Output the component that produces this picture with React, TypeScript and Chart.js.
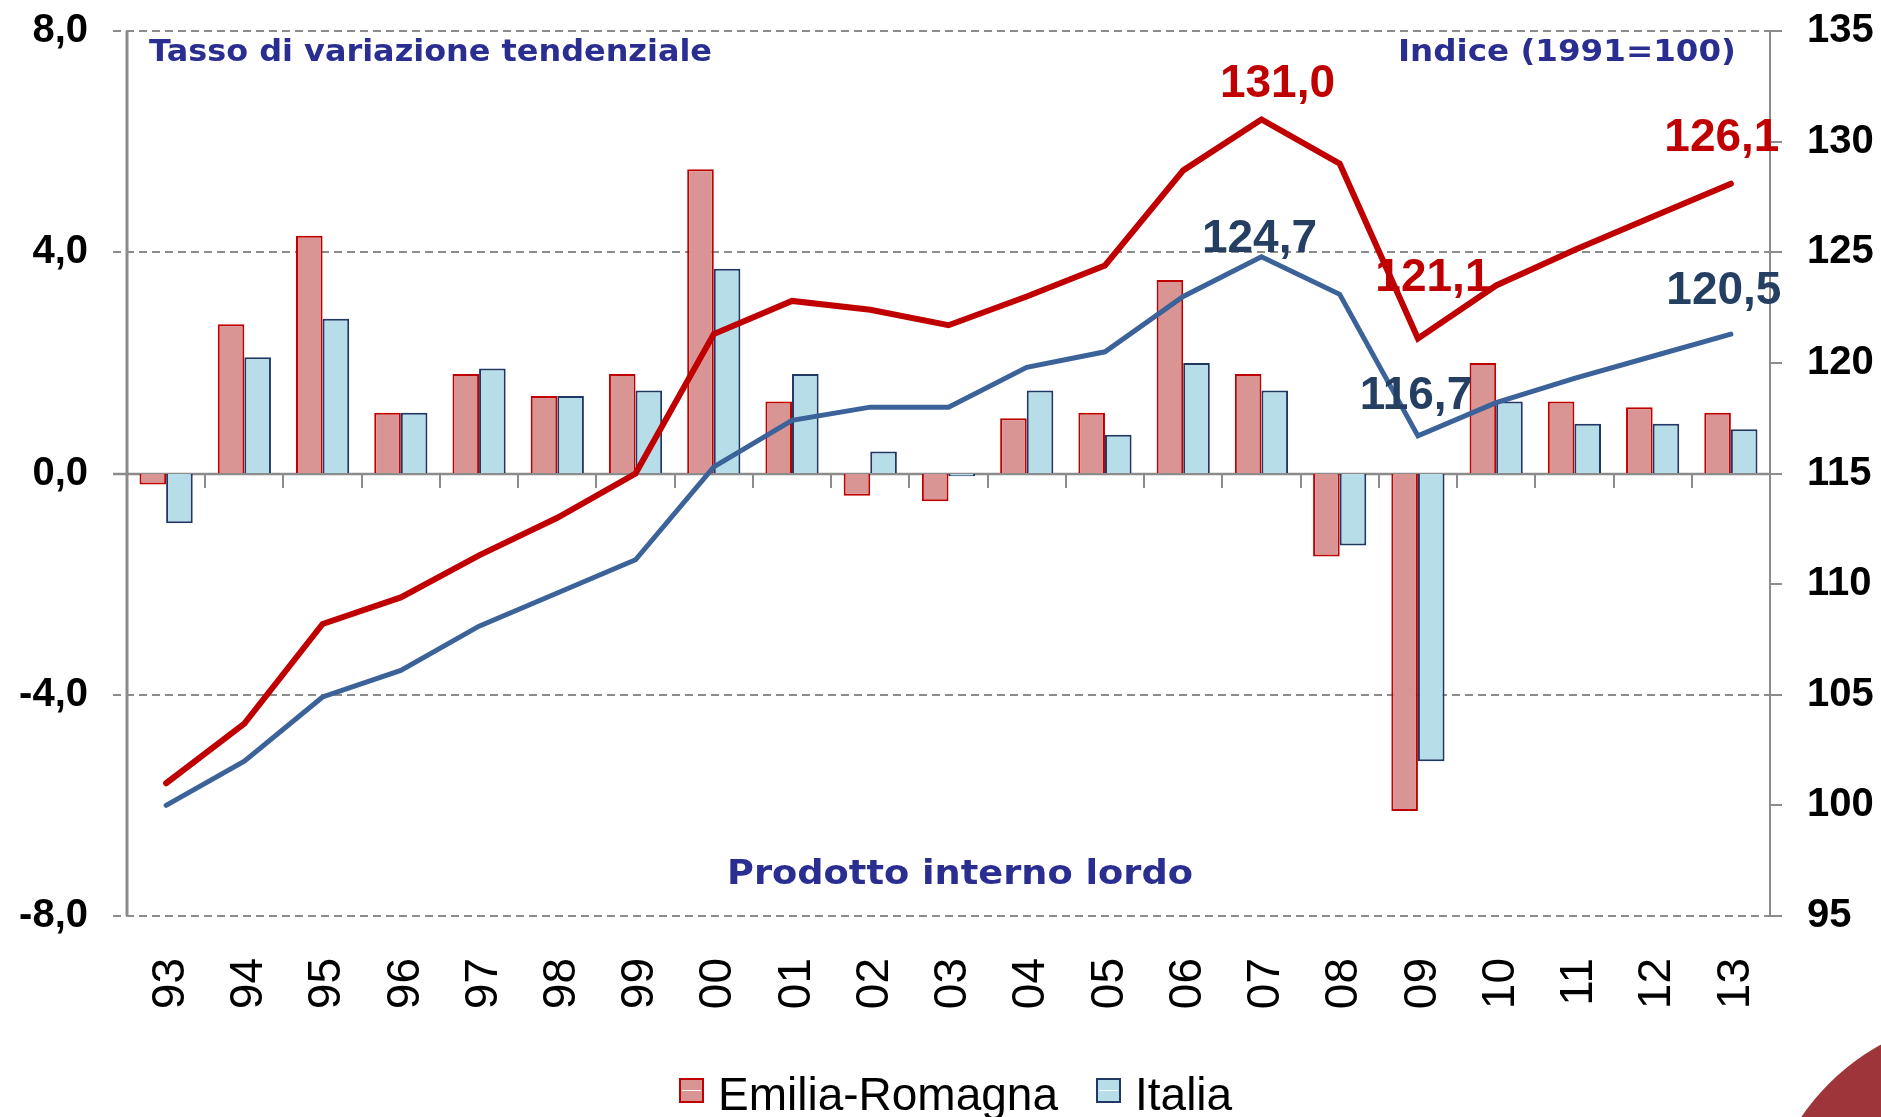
import React, { useEffect, useRef } from 'react';
import { Chart, registerables } from 'chart.js';

Chart.register(...registerables);

// ---------------- DATA ----------------
const years = ['93', '94', '95', '96', '97', '98', '99', '00', '01', '02', '03', '04', '05', '06', '07', '08', '09', '10', '11', '12', '13'];
const seriesNames = ['Emilia-Romagna', 'Italia'];
// Tasso di variazione tendenziale (%), left axis
const erGrowth = [-0.2, 2.7, 4.3, 1.1, 1.8, 1.4, 1.8, 5.5, 1.3, -0.4, -0.5, 1.0, 1.1, 3.5, 1.8, -1.5, -6.1, 2.0, 1.3, 1.2, 1.1];
const itGrowth = [-0.9, 2.1, 2.8, 1.1, 1.9, 1.4, 1.5, 3.7, 1.8, 0.4, -0.05, 1.5, 0.7, 2.0, 1.5, -1.3, -5.2, 1.3, 0.9, 0.9, 0.8];
// Indice (1991=100), right axis
const erIndex = [101.0, 103.7, 108.2, 109.4, 111.3, 113.0, 115.0, 121.3, 122.8, 122.4, 121.7, 123.0, 124.4, 128.7, 131.0, 129.0, 121.1, 123.5, 125.1, 126.6, 128.1];
const itIndex = [100.0, 102.0, 104.9, 106.1, 108.1, 109.6, 111.1, 115.3, 117.4, 118.0, 118.0, 119.8, 120.5, 123.0, 124.8, 123.1, 116.7, 118.2, 119.3, 120.3, 121.3];
// Left / right axis ticks
const leftTicks = [-8, -4, 0, 4, 8];
const rightTicks = [95, 100, 105, 110, 115, 120, 125, 130, 135];
// Value annotations (year, text)
const erLabelYears = ['07', '09', '13'];
const erLabelTexts = ['131,0', '121,1', '126,1'];
const itLabelYears = ['07', '09', '13'];
const itLabelTexts = ['124,7', '116,7', '120,5'];
const titleLeft = 'Tasso di variazione tendenziale';
const titleRight = 'Indice (1991=100)';
const chartTitle = 'Prodotto interno lordo';

// ---------------- STYLE ----------------
const RED = '#C00000';
const PINK = '#D99594';
const NAVY = '#1F3864';
const LIGHTBLUE = '#B7DDE8';
const LINEBLUE = '#3B6399';
const LABELNAVY = '#243F62';
const TITLEBLUE = '#2B2E91';
const GRID = '#8C8C8C';
const SANS = '"Liberation Sans", Arial, sans-serif';
const VERD = '"DejaVu Sans", Verdana, sans-serif';

const fmtLeft = (v: number) => v.toFixed(1).replace('.', ',');

const gridPlugin = {
  id: 'customGrid',
  beforeDatasetsDraw(chart: any) {
    const { ctx, chartArea, scales } = chart;
    const y = scales.y;
    const x = scales.x;
    const line = (x1: number, y1: number, x2: number, y2: number) => {
      ctx.beginPath();
      ctx.moveTo(x1, y1);
      ctx.lineTo(x2, y2);
      ctx.stroke();
    };
    ctx.save();
    ctx.strokeStyle = GRID;
    ctx.lineWidth = 2;
    ctx.setLineDash([8, 5]);
    for (const v of leftTicks) {
      if (v === 0) continue;
      const py = Math.round(y.getPixelForValue(v));
      line(chartArea.left - 14, py, chartArea.right + 11, py);
    }
    ctx.setLineDash([]);
    // axes
    ctx.lineWidth = 3;
    line(chartArea.left, chartArea.top, chartArea.left, chartArea.bottom);
    ctx.lineWidth = 2;
    line(chartArea.right, chartArea.top, chartArea.right, chartArea.bottom);
    // zero line
    const y0 = Math.round(y.getPixelForValue(0));
    ctx.lineWidth = 2.5;
    line(chartArea.left - 14, y0, chartArea.right, y0);
    // category separators on zero line
    ctx.lineWidth = 2;
    for (let i = 1; i < years.length; i++) {
      const bx = Math.round((x.getPixelForValue(i - 1) + x.getPixelForValue(i)) / 2);
      line(bx, y0, bx, y0 + 14);
    }
    ctx.restore();
  },
};

const drawScaledText = (ctx: any, text: string, font: string, color: string, x: number, y: number, targetW: number, align: 'left' | 'right') => {
  ctx.save();
  ctx.font = font;
  ctx.fillStyle = color;
  ctx.textBaseline = 'alphabetic';
  ctx.textAlign = 'left';
  const w = ctx.measureText(text).width;
  const sx = targetW / w;
  const x0 = align === 'left' ? x : x - targetW;
  ctx.translate(x0, y);
  ctx.scale(sx, 1);
  ctx.fillText(text, 0, 0);
  ctx.restore();
};

const annotPlugin = {
  id: 'annotations',
  afterDatasetsDraw(chart: any) {
    const { ctx } = chart;
    const erMeta = chart.getDatasetMeta(2);
    const itMeta = chart.getDatasetMeta(3);
    const erOff: Record<string, [number, number]> = { '07': [16, -23], '09': [15, -48], '13': [-9, -33] };
    const itOff: Record<string, [number, number]> = { '07': [-2, -5], '09': [-2, -27], '13': [-7, -30] };
    ctx.save();
    ctx.font = `bold 46px ${SANS}`;
    ctx.textAlign = 'center';
    ctx.textBaseline = 'alphabetic';
    erLabelYears.forEach((yr, k) => {
      const pt = erMeta.data[years.indexOf(yr)];
      const [dx, dy] = erOff[yr] || [0, -20];
      ctx.fillStyle = RED;
      ctx.fillText(erLabelTexts[k], pt.x + dx, pt.y + dy);
    });
    itLabelYears.forEach((yr, k) => {
      const pt = itMeta.data[years.indexOf(yr)];
      const [dx, dy] = itOff[yr] || [0, -20];
      ctx.fillStyle = LABELNAVY;
      ctx.fillText(itLabelTexts[k], pt.x + dx, pt.y + dy);
    });
    ctx.restore();

    drawScaledText(ctx, titleLeft, `bold 31px ${VERD}`, TITLEBLUE, 149, 61, 563, 'left');
    drawScaledText(ctx, titleRight, `bold 31px ${VERD}`, TITLEBLUE, 1736, 61, 338, 'right');
    drawScaledText(ctx, chartTitle, `bold 34px ${VERD}`, TITLEBLUE, 727, 884, 466, 'left');

    // legend
    const items = [
      { label: seriesNames[0], fill: PINK, stroke: RED, bx: 679, tx: 718 },
      { label: seriesNames[1], fill: LIGHTBLUE, stroke: NAVY, bx: 1096, tx: 1135 },
    ];
    ctx.save();
    for (const it of items) {
      ctx.fillStyle = it.fill;
      ctx.fillRect(it.bx, 1078, 25, 25);
      ctx.strokeStyle = it.stroke;
      ctx.lineWidth = 2;
      ctx.strokeRect(it.bx + 1, 1079, 23, 23);
      ctx.strokeStyle = 'rgba(255,255,255,0.9)';
      ctx.lineWidth = 1;
      ctx.beginPath();
      ctx.moveTo(it.bx + 3, 1090.5);
      ctx.lineTo(it.bx + 22, 1090.5);
      ctx.stroke();
      ctx.fillStyle = '#000';
      ctx.font = `46px ${SANS}`;
      ctx.textAlign = 'left';
      ctx.textBaseline = 'alphabetic';
      ctx.fillText(it.label, it.tx, 1110);
    }
    ctx.restore();
  },
};

const zeroPad = (s: any) => {
  s.paddingTop = 0;
  s.paddingBottom = 0;
  s.paddingLeft = 0;
  s.paddingRight = 0;
};

export default function App() {
  const ref = useRef<HTMLCanvasElement | null>(null);

  useEffect(() => {
    if (!ref.current) return;
    const chart = new Chart(ref.current, {
      type: 'bar',
      data: {
        labels: years,
        datasets: [
          {
            type: 'bar',
            label: seriesNames[0],
            data: erGrowth,
            backgroundColor: PINK,
            borderColor: RED,
            borderWidth: 2,
            yAxisID: 'y',
            order: 2,
            categoryPercentage: 0.68,
            barPercentage: 1.0,
          } as any,
          {
            type: 'bar',
            label: seriesNames[1],
            data: itGrowth,
            backgroundColor: LIGHTBLUE,
            borderColor: NAVY,
            borderWidth: 2,
            yAxisID: 'y',
            order: 2,
            categoryPercentage: 0.68,
            barPercentage: 1.0,
          } as any,
          {
            type: 'line',
            label: seriesNames[0] + ' indice',
            data: erIndex,
            borderColor: RED,
            borderWidth: 6,
            pointRadius: 0,
            tension: 0,
            fill: false,
            yAxisID: 'y1',
            order: 1,
            borderCapStyle: 'round',
            borderJoinStyle: 'miter',
          } as any,
          {
            type: 'line',
            label: seriesNames[1] + ' indice',
            data: itIndex,
            borderColor: LINEBLUE,
            borderWidth: 5,
            pointRadius: 0,
            tension: 0,
            fill: false,
            yAxisID: 'y1',
            order: 0,
            borderCapStyle: 'round',
            borderJoinStyle: 'miter',
          } as any,
        ],
      },
      options: {
        responsive: false,
        animation: false,
        devicePixelRatio: 1,
        layout: { padding: { top: 31, left: 0, right: 0, bottom: 0 } },
        plugins: {
          legend: { display: false },
          tooltip: { enabled: false },
          title: { display: false },
        },
        scales: {
          x: {
            type: 'category',
            offset: true,
            grid: { display: false, drawTicks: false },
            border: { display: false },
            ticks: {
              autoSkip: false,
              minRotation: 90,
              maxRotation: 90,
              padding: 42,
              labelOffset: 5,
              color: '#000',
              font: { family: SANS, size: 46 },
            },
            afterFit: (s: any) => { s.height = 201; zeroPad(s); },
          },
          y: {
            type: 'linear',
            position: 'left',
            min: -8,
            max: 8,
            afterBuildTicks: (s: any) => { s.ticks = leftTicks.map((v) => ({ value: v })); },
            grid: { display: true, drawOnChartArea: false, drawTicks: true, tickLength: 14, color: 'rgba(0,0,0,0)' },
            border: { display: false },
            ticks: {
              padding: 25,
              color: '#000',
              font: { family: SANS, size: 40, weight: 'bold' },
              callback: (v: any) => fmtLeft(Number(v)),
            },
            afterFit: (s: any) => { s.width = 127; zeroPad(s); },
          },
          y1: {
            type: 'linear',
            position: 'right',
            min: 95,
            max: 135,
            afterBuildTicks: (s: any) => { s.ticks = rightTicks.map((v) => ({ value: v })); },
            grid: { display: true, drawOnChartArea: false, drawTicks: true, tickLength: 12, color: GRID, lineWidth: 2 },
            border: { display: false },
            ticks: {
              padding: 25,
              color: '#000',
              font: { family: SANS, size: 40, weight: 'bold' },
              callback: (v: any) => String(v),
            },
            afterFit: (s: any) => { s.width = 111; zeroPad(s); },
          },
        },
      },
      plugins: [gridPlugin, annotPlugin],
    } as any);
    return () => chart.destroy();
  }, []);

  return (
    <div style={{ position: 'fixed', left: 0, top: 0, width: 1881, height: 1117, overflow: 'hidden', background: '#fff' }}>
      <canvas ref={ref} width={1881} height={1117} style={{ display: 'block', width: 1881, height: 1117 }} />
      <div
        style={{
          position: 'absolute',
          left: 1760,
          top: 1015,
          width: 470,
          height: 470,
          borderRadius: '50%',
          background: '#9E353B',
        }}
      />
    </div>
  );
}
